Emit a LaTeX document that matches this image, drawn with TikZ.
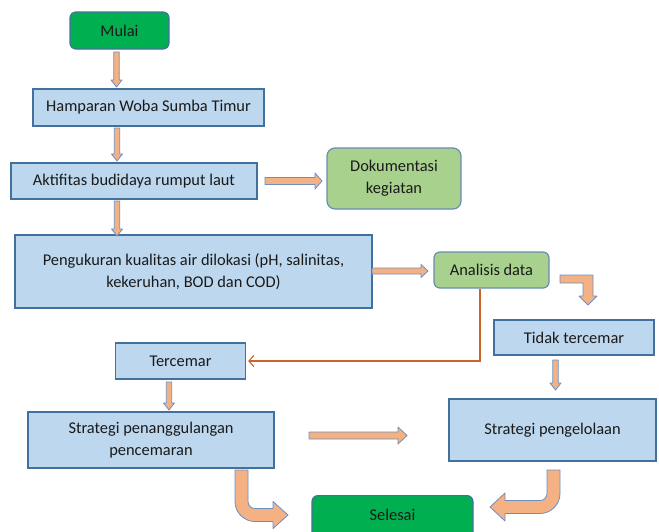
\documentclass[tikz,border=0pt]{standalone}
\usepackage{fontspec}
\setmainfont{Carlito}
\usetikzlibrary{arrows.meta,calc}
\definecolor{boxblue}{HTML}{BDD7EE}
\definecolor{edgeblue}{HTML}{41719C}
\definecolor{startgreen}{HTML}{00B050}
\definecolor{lightgreen}{HTML}{A9D18E}
\definecolor{arrowfill}{HTML}{F4B183}
\definecolor{arrowedge}{HTML}{6A8FC4}
\definecolor{lineorange}{HTML}{C9652A}
\definecolor{txt}{HTML}{1A1A1A}
\newcommand\varrow[3]{% x, ytop, ytip
  \filldraw[barrow] (#1-2.7,#2) -- (#1+2.7,#2) -- (#1+2.7,#3-7) -- (#1+5.5,#3-7) -- (#1,#3) -- (#1-5.5,#3-7) -- (#1-2.7,#3-7) -- cycle;}
\newcommand\harrow[6]{% y, xstart, xtip, halfshaft, halfhead, headlen
  \filldraw[barrow] (#2,#1-#4) -- (#3-#6,#1-#4) -- (#3-#6,#1-#5) -- (#3,#1) -- (#3-#6,#1+#5) -- (#3-#6,#1+#4) -- (#2,#1+#4) -- cycle;}
\begin{document}
\begin{tikzpicture}[x=1pt,y=-1pt,
  font=\fontsize{16.4}{22}\selectfont,
  every node/.style={text=txt,align=center,inner sep=0pt},
  bbox/.style={draw=edgeblue,line width=1.2pt,fill=boxblue},
  gbox/.style={draw=edgeblue,line width=1.2pt,fill=startgreen,rounded corners=6pt},
  lbox/.style={draw=edgeblue!80,line width=1.2pt,fill=lightgreen,rounded corners=8pt},
  barrow/.style={draw=arrowedge,line width=0.8pt,fill=arrowfill,line join=round},
  oline/.style={draw=lineorange,line width=1.1pt,-{Straight Barb[length=5pt,width=11pt]}}]
\useasboundingbox (0,0) rectangle (659,531);
\node[gbox,minimum width=99pt,minimum height=37pt] (mulai) at (119.5,30.5) {Mulai};
\node[bbox,minimum width=231pt,minimum height=37pt] (hamp) at (148.5,107.5) {Hamparan Woba Sumba Timur};
\node[bbox,minimum width=246pt,minimum height=36pt] (akt) at (134,181) {Aktifitas budidaya rumput laut};
\node[lbox,minimum width=134pt,minimum height=61pt] (dok) at (394,178.5) {Dokumentasi\\kegiatan};
\node[bbox,minimum width=357pt,minimum height=73pt] (peng) at (193.5,271.5) {Pengukuran kualitas air dilokasi (pH, salinitas,\\kekeruhan, BOD dan COD)};
\node[lbox,minimum width=115pt,minimum height=36pt,rounded corners=6pt] (anal) at (491.5,270) {Analisis data};
\node[bbox,minimum width=160pt,minimum height=35pt] (tidak) at (574,337.5) {Tidak tercemar};
\node[bbox,minimum width=130pt,minimum height=36pt] (terc) at (180.5,361) {Tercemar};
\node[bbox,minimum width=246pt,minimum height=56pt] (sp) at (151,440) {Strategi penanggulangan\\pencemaran};
\node[bbox,minimum width=207pt,minimum height=62pt] (spl) at (552.5,430) {Strategi pengelolaan};
\node[gbox,minimum width=161pt,minimum height=42pt,anchor=north] (sel) at (392.5,495) {};
\node (seltext) at (392.5,515) {Selesai};
% block arrows
\varrow{116.5}{52}{87}
\varrow{117}{128}{161}
\varrow{117}{201}{236}
\varrow{169}{382}{410}
\varrow{555.5}{360}{390}
\harrow{181}{265}{322}{3.5}{8}{7}
\harrow{271}{372}{428}{3}{6.5}{7}
\harrow{435.5}{309}{407}{3.5}{8.5}{9}
% bent arrow analisis -> tidak
\filldraw[barrow] (560,275) -- (593,275) -- (593,296) -- (597,296) -- (588,305) -- (579,296) -- (583,296) -- (583,283) -- (560,283) -- cycle;
% curved arrow sp -> selesai
\filldraw[barrow] (235,470) -- (248,470) -- (248,501.5) .. controls (248,505.4) and (251.1,508.5) .. (255,508.5) -- (273,508.5) -- (273,501.5) -- (288,515) -- (273,528.5) -- (273,521.5) -- (255,521.5) .. controls (244,521.5) and (235,512.5) .. (235,501.5) -- cycle;
% curved arrow spl -> selesai
\filldraw[barrow] (547,470) -- (560,470) -- (560,493.5) .. controls (560,504.5) and (551,513.5) .. (540,513.5) -- (505,513.5) -- (505,521) -- (490,507) -- (505,493) -- (505,500.5) -- (540,500.5) .. controls (543.9,500.5) and (547,497.4) .. (547,493.5) -- cycle;
% thin orange connector
\draw[oline] ([xshift=-11.5pt]anal.south) |- ([xshift=2pt]terc.east);
\end{tikzpicture}
\end{document}
